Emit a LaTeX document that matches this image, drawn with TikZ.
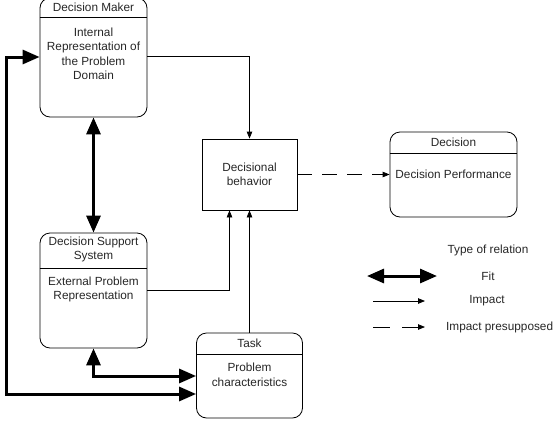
\documentclass[tikz,border=0pt]{standalone}
\usepackage{fontspec}
\setmainfont{Liberation Sans}
\usetikzlibrary{arrows.meta}

\tikzset{
  entity/.style={draw, rounded corners=10pt, line width=0.8pt, inner sep=0pt},
  plainbox/.style={draw, line width=0.8pt, inner sep=0pt},
  txt/.style={align=center, inner sep=0pt, font=\fontsize{11.8}{14.5}\selectfont, text=black!85},
  fitarrow/.style={line width=3pt, {Triangle[length=17pt,width=14pt]}-{Triangle[length=17pt,width=14pt]}},
  impact/.style={line width=0.8pt, -{Triangle[length=7pt,width=5.5pt]}},
  presupposed/.style={impact, dash pattern=on 15pt off 10pt},
}

\begin{document}
\begin{tikzpicture}[x=1pt,y=-1pt]
\useasboundingbox (0,0) rectangle (555,429);

% decision maker
\node[entity, minimum width=107pt, minimum height=119pt] (dm) at (93.5,57.5) {};
\draw[line width=0.8pt] (dm.west |- 0,17) -- (dm.east |- 0,17);
\node[txt] (dmtitle) at (93.5,7) {Decision Maker};
\node[txt] (dmbody) at (93.5,54) {Internal\\Representation of\\the Problem\\Domain};

% decision support system
\node[entity, minimum width=107pt, minimum height=115pt] (dss) at (93.5,290.5) {};
\draw[line width=0.8pt] (dss.west |- 0,268) -- (dss.east |- 0,268);
\node[txt] (dsstitle) at (93.5,249.5) {Decision Support\\System};
\node[txt] (dssbody) at (93.5,289.5) {External Problem\\Representation};

% task
\node[entity, minimum width=106pt, minimum height=85pt] (task) at (249.5,375.5) {};
\draw[line width=0.8pt] (task.west |- 0,354) -- (task.east |- 0,354);
\node[txt] (tasktitle) at (249.5,343) {Task};
\node[txt] (taskbody) at (249.5,375) {Problem\\characteristics};

% decisional behavior
\node[plainbox, txt, minimum width=95pt, minimum height=71pt] (beh) at (249.5,174.5) {Decisional\\behavior};

% decision
\node[entity, minimum width=127pt, minimum height=85pt] (dec) at (453.5,174.5) {};
\draw[line width=0.8pt] (dec.west |- 0,153) -- (dec.east |- 0,153);
\node[txt] (dectitle) at (453.5,142) {Decision};
\node[txt] (decbody) at (453.5,174) {Decision Performance};

% relations
\draw[impact] (dm.east |- 0,56) -| (beh.north);
\draw[impact] (dss.east |- 0,290) -| ([xshift=-20pt]beh.south);
\draw[impact] (task.north) -- (beh.south);
\draw[presupposed] (beh.east) -- (dec.west);
\draw[fitarrow] (dm.south) -- (dss.north);
\draw[fitarrow] (dss.south) |- (task.west |- 0,376);
\coordinate (loop) at (6,57);
\draw[fitarrow] (task.west |- 0,394) -| (loop) -- (dm.west |- loop);

% legend
\node[txt] (legtitle) at (488,250) {Type of relation};
\coordinate (fita) at (367,276);
\coordinate (fitb) at (437,276);
\draw[fitarrow] (fita) -- (fitb);
\node[txt] (fitlbl) at (488,276) {Fit};
\coordinate (impa) at (373,301);
\coordinate (impb) at (425,301);
\draw[impact] (impa) -- (impb);
\node[txt] (implbl) at (487,301) {Impact};
\coordinate (prea) at (373,327);
\coordinate (preb) at (425,327);
\draw[impact, dash pattern=on 17pt off 12pt] (prea) -- (preb);
\node[txt, anchor=west] (prelbl) at (446,327) {Impact presupposed};
\end{tikzpicture}
\end{document}
